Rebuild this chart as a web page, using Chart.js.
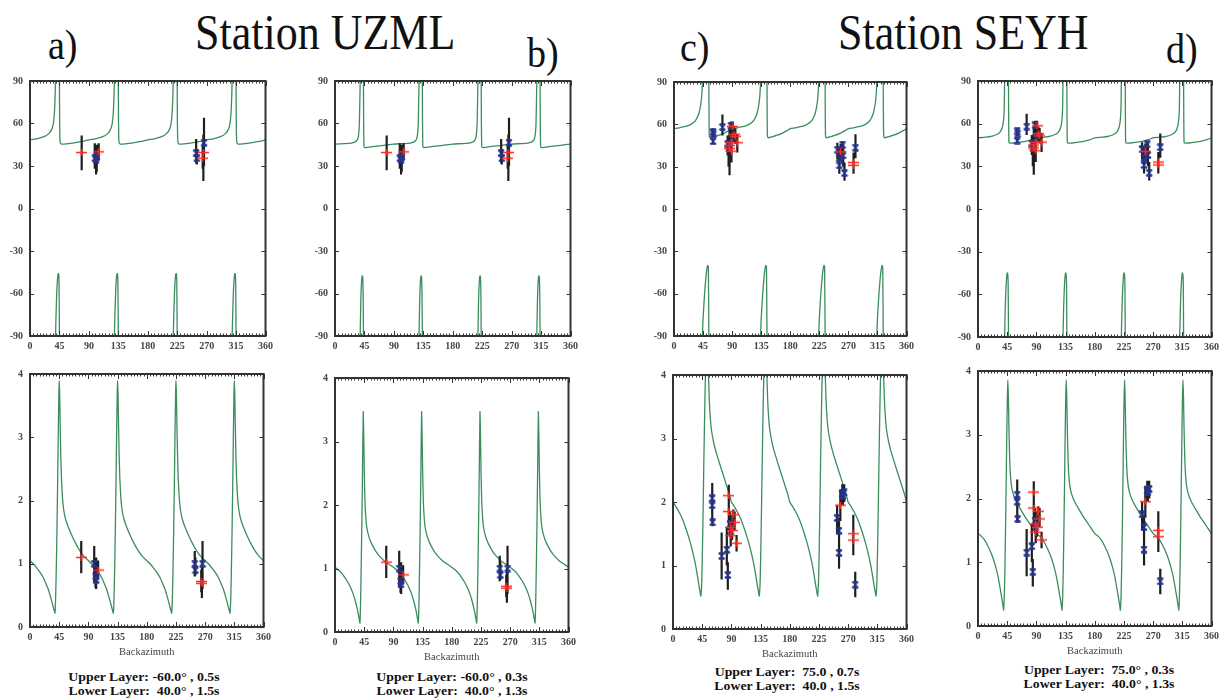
<!DOCTYPE html>
<html>
<head>
<meta charset="utf-8">
<script src="https://cdn.jsdelivr.net/npm/chart.js@4.4.0/dist/chart.umd.min.js"></script>
<style>
  body { margin: 0; background: #fff; width: 1225px; height: 698px; position: relative; overflow: hidden; font-family: "Liberation Serif", "DejaVu Serif", serif; }
  canvas { position: absolute; }
  .lbl { position: absolute; white-space: pre; color: #111; line-height: 1; transform-origin: 0 0; }
  .big { font-size: 44px; transform: scaleY(1.13); }
  .tag { font-size: 38px; transform: scaleY(1.1); }
  .cap { position: absolute; width: 300px; text-align: center; white-space: pre; font-weight: bold; font-size: 13.8px; line-height: 15px; color: #111; transform: scaleY(0.92); transform-origin: 50% 0; }
</style>
</head>
<body>
<div class="lbl big" style="left:195px; top:8px;">Station UZML</div>
<div class="lbl big" style="left:838px; top:8px;">Station SEYH</div>
<div class="lbl tag" style="left:48px; top:24px;">a)</div>
<div class="lbl tag" style="left:527px; top:32px;">b)</div>
<div class="lbl tag" style="left:680px; top:26px;">c)</div>
<div class="lbl tag" style="left:1166px; top:28px;">d)</div>
<div class="cap" style="left:-6px; top:670px;">Upper Layer: -60.0° , 0.5s
Lower Layer:  40.0° , 1.5s</div>
<div class="cap" style="left:302px; top:670px;">Upper Layer: -60.0° , 0.3s
Lower Layer:  40.0° , 1.3s</div>
<div class="cap" style="left:637px; top:665px;">Upper Layer:  75.0 , 0.7s
Lower Layer:  40.0 , 1.5s</div>
<div class="cap" style="left:949px; top:663px;">Upper Layer:  75.0° , 0.3s
Lower Layer:  40.0° , 1.3s</div>
<script>
// tick labels
const bazTicks = [0, 45, 90, 135, 180, 225, 270, 315, 360];
const phiTicks = [-90, -60, -30, 0, 30, 60, 90];
const dtTicks = [0, 1, 2, 3, 4];

// model curves, one 90 degree period each (the curve repeats every 90 deg of backazimuth)
const aTopX = [0, 10, 18, 25, 29, 32, 34, 35.5, 36.5, 37.5, 38.3, 39, 39, 39, 40, 41, 42, 43, 43.8, 44.4, 45, 45, 45, 45.3, 45.7, 46.3, 48, 55, 65, 75, 83, 90];
const aTopY = [48.5, 49.2, 50.2, 51.5, 53, 54.8, 56.8, 59.5, 63, 69, 78, 90, null, -90, -72, -58, -50, -46, -46, -52, -90, null, 90, 62, 50, 46.5, 45.5, 45.6, 46.2, 47, 47.6, 48.5];
const bTopX = [0, 15, 25, 30, 33, 35, 36.3, 37.3, 38.5, 38.5, 38.5, 39.5, 40.5, 41.5, 42.3, 43, 43.5, 43.5, 43.5, 43.8, 44.2, 45, 50, 60, 75, 90];
const bTopY = [45.5, 45.8, 46.2, 46.8, 47.8, 49.5, 53, 60, 90, null, -90, -64, -52, -47.5, -48, -60, -90, null, 90, 60, 45, 43, 43.2, 43.8, 44.6, 45.5];
const cTopX = [0, 8, 16, 23, 28, 32, 35, 38, 40, 42, 43.2, 44, 44, 44, 45, 46.5, 48, 49.5, 51, 52.3, 53.2, 54, 54, 54, 54.3, 54.7, 56, 62, 70, 78, 85, 90];
const cTopY = [57, 57.5, 58.3, 59.3, 60.5, 62, 64, 67, 70.5, 76, 82, 90, null, -90, -78, -66, -56, -48, -42.5, -40, -41, -90, null, 90, 62, 51.5, 50.5, 51.2, 52.3, 53.8, 55.5, 57];
const dTopX = [0, 12, 22, 28, 32, 35, 37, 38.5, 39.7, 40.5, 41, 41, 41, 42, 43, 44, 45, 45.8, 46.5, 47, 47, 47, 47.3, 47.7, 49, 55, 65, 75, 83, 90];
const dTopY = [50, 50.5, 51.3, 52.2, 53.2, 54.8, 56.8, 59.5, 64, 72, 90, null, -90, -70, -57, -49, -45, -45.5, -52, -90, null, 90, 62, 47, 46.3, 46.4, 47, 47.8, 48.8, 50];

const aDtX = [0, 5, 10, 15, 20, 24, 28, 31, 34, 36, 37.5, 38.5, 39.5, 40.5, 41.5, 42.5, 43.5, 44.5, 45, 45.7, 46.5, 47.5, 48.5, 50, 52, 55, 59, 64, 70, 76, 83, 90];
const aDtY = [1.05, 1.0, 0.94, 0.87, 0.79, 0.7, 0.6, 0.5, 0.39, 0.31, 0.25, 0.22, 0.45, 0.9, 1.5, 2.2, 3.0, 3.7, 3.9, 3.7, 3.2, 2.7, 2.35, 2.05, 1.85, 1.7, 1.58, 1.46, 1.33, 1.22, 1.12, 1.05];
const bDtX = [0, 5, 10, 15, 20, 24, 28, 31, 34, 36, 37.5, 38.5, 39.5, 40.5, 41.5, 42.5, 43.5, 44.3, 45.2, 46.2, 47.5, 49, 51, 54, 58, 63, 69, 76, 83, 90];
const bDtY = [1.02, 0.98, 0.93, 0.86, 0.78, 0.7, 0.6, 0.5, 0.38, 0.28, 0.19, 0.14, 0.5, 1.1, 1.8, 2.6, 3.47, 3.1, 2.5, 2.05, 1.8, 1.65, 1.55, 1.45, 1.36, 1.27, 1.19, 1.12, 1.07, 1.02];
const cDtX = [0, 5, 10, 15, 20, 25, 30, 34, 37, 39.5, 41.5, 43, 44.5, 46, 47.5, 49, 50.5, 52, 54, 56, 58.5, 62, 66, 72, 77, 82, 87, 90];
const cDtY = [2.0, 1.92, 1.83, 1.72, 1.58, 1.42, 1.23, 1.05, 0.88, 0.72, 0.6, 0.52, 0.8, 1.6, 2.6, 3.5, 4.2, 4.6, 4.2, 3.6, 3.2, 2.97, 2.8, 2.6, 2.44, 2.28, 2.12, 2.0];
const dDtX = [0, 5, 10, 15, 20, 24, 28, 31, 34, 36.5, 38.5, 39.5, 40.5, 41.5, 42.5, 43.5, 44.5, 45.3, 46, 46.8, 47.6, 48.5, 49.5, 51, 53, 56, 60, 65, 72, 80, 90];
const dDtY = [1.45, 1.41, 1.35, 1.26, 1.15, 1.04, 0.9, 0.77, 0.6, 0.45, 0.32, 0.25, 0.45, 0.9, 1.55, 2.3, 3.1, 3.6, 3.86, 3.6, 3.15, 2.75, 2.45, 2.25, 2.12, 2.02, 1.93, 1.84, 1.72, 1.6, 1.45];

// station UZML measurements (kind: b = blue x, r = red +)
const uzmlBaz   = [79, 99, 101, 102, 105, 254, 255, 266, 265, 264];
const uzmlPhi   = [39.5, 35.5, 34.5, 36.5, 40, 39, 35.5, 46.5, 39.5, 35.5];
const uzmlPhiLo = [27, 28, 24, 26, 34, 32, 31, 30, 19.5, 28];
const uzmlPhiHi = [51.5, 46, 44, 45, 46, 49, 42, 64, 52, 44];
const uzmlDt    = [1.1, 1.0, 0.8, 0.75, 0.9, 1.0, 0.9, 1.0, 0.69, 0.72];
const uzmlDtLo  = [0.85, 0.7, 0.62, 0.6, 0.75, 0.8, 0.82, 0.6, 0.46, 0.55];
const uzmlDtHi  = [1.36, 1.28, 1.0, 1.1, 1.05, 1.2, 1.1, 1.36, 1.0, 0.9];
const uzmlKind  = ['r', 'b', 'b', 'b', 'r', 'b', 'b', 'b', 'r', 'r'];

// station SEYH measurements
const seyhBaz   = [60.5, 60.5, 61, 75, 83, 84.5, 88, 89, 253, 256, 256, 261, 262, 264, 281, 86, 86, 89, 89, 93, 95, 98, 91, 258, 278, 278];
const seyhPhi   = [54.6, 48, 53, 58, 46, 43, 59, 50, 42, 31, 36, 45.5, 38, 25.5, 43.5, 45, 43, 47, 41, 53, 51.5, 47, 58.5, 40.5, 31, 33];
const seyhPhiLo = [52, 46, 51, 52, 38, 30, 53, 38, 35, 25, 30, 40, 30, 20, 36, 32, 24, 35, 33, 47, 46, 40, 54, 34, 25, 27];
const seyhPhiHi = [57, 50, 55, 67, 52, 50, 62, 55, 47, 40, 44, 48, 46, 33, 53, 57, 52, 55, 50, 58, 57, 53, 62, 46, 38, 40];
const seyhDt    = [2.06, 1.95, 1.68, 1.15, 1.25, 0.85, 1.65, 1.55, 1.75, 1.55, 1.2, 2.13, 2.1, 2.15, 0.7, 2.1, 1.85, 1.6, 1.47, 1.8, 1.68, 1.35, 1.55, 1.95, 1.5, 1.4];
const seyhDtLo  = [1.8, 1.65, 1.62, 0.78, 1.0, 0.62, 1.45, 1.3, 1.5, 1.3, 0.95, 1.95, 1.95, 2.0, 0.5, 1.8, 1.55, 1.35, 1.3, 1.65, 1.55, 1.22, 1.4, 1.7, 1.2, 1.16];
const seyhDtHi  = [2.3, 2.2, 1.75, 1.52, 1.6, 1.05, 1.85, 1.75, 1.95, 1.75, 1.45, 2.28, 2.27, 2.28, 0.9, 2.27, 2.1, 1.8, 1.65, 1.88, 1.85, 1.48, 1.7, 2.2, 1.8, 1.6];
const seyhKind  = ['b', 'b', 'b', 'b', 'b', 'b', 'b', 'b', 'b', 'b', 'b', 'b', 'b', 'b', 'b', 'r', 'r', 'r', 'r', 'r', 'r', 'r', 'r', 'r', 'r', 'r'];

const GREEN = '#3b8d5d';
const BLUE = '#27358f';
const RED = '#ff2a1f';
const tickFont = { family: '"Liberation Serif", serif', size: 10, weight: 'bold' };

// marker glyphs: wide red plus, blue x with caps
function glyph(w, h, color, draw) {
    const c = document.createElement('canvas');
    c.width = w; c.height = h;
    const g = c.getContext('2d');
    g.strokeStyle = color;
    g.lineWidth = 1.6;
    g.beginPath();
    draw(g, w, h);
    g.stroke();
    return c;
}
const redPlus = glyph(11, 7, RED, (g, w, h) => {
    g.moveTo(0, h / 2); g.lineTo(w, h / 2);
    g.moveTo(w / 2, 0); g.lineTo(w / 2, h);
});
const blueCross = glyph(8, 8, BLUE, (g, w, h) => {
    g.moveTo(1, 1); g.lineTo(w - 1, h - 1);
    g.moveTo(w - 1, 1); g.lineTo(1, h - 1);
    g.moveTo(1, 1); g.lineTo(w - 1, 1);
    g.moveTo(1, h - 1); g.lineTo(w - 1, h - 1);
});

// lay the single read period over 0..360
function tilePeriod(xs, ys) {
    const pts = [];
    for (let k = 0; k < 4; k++) {
        xs.forEach((x, i) => {
            if (k > 0 && i === 0) return;
            pts.push({ x: x + 90 * k, y: ys[i] });
        });
    }
    return pts;
}

function barPoints(baz, lo, hi) {
    const pts = [];
    baz.forEach((b, i) => {
        pts.push({ x: b, y: lo[i] }, { x: b, y: hi[i] }, { x: b, y: null });
    });
    return pts;
}

function markerPoints(baz, vals, kind, want) {
    return baz.map((b, i) => ({ x: b, y: vals[i] })).filter((p, i) => kind[i] === want);
}

const framePlugin = {
    id: 'frame',
    afterDatasetsDraw(chart) {
        const { ctx, chartArea: a, scales: { x, y } } = chart;
        ctx.save();
        ctx.strokeStyle = '#333';
        ctx.lineWidth = 1;
        ctx.beginPath();
        for (let v = 0; v <= 360; v += 5) {
            const px = Math.round(x.getPixelForValue(v)) + 0.5;
            const len = v % 45 === 0 ? 5 : 2.5;
            ctx.moveTo(px, a.bottom); ctx.lineTo(px, a.bottom - len);
            ctx.moveTo(px, a.top); ctx.lineTo(px, a.top + len);
        }
        y.ticks.forEach(t => {
            const py = Math.round(y.getPixelForValue(t.value)) + 0.5;
            ctx.moveTo(a.left, py); ctx.lineTo(a.left + 4, py);
            ctx.moveTo(a.right, py); ctx.lineTo(a.right - 4, py);
        });
        ctx.stroke();
        ctx.lineWidth = 2;
        ctx.strokeRect(a.left, a.top, a.right - a.left, a.bottom - a.top);
        ctx.restore();
    }
};

function makePanel(box, kind, curveX, curveY, st) {
    const pad = { l: 32, t: 6, r: 10, b: kind === 'top' ? 22 : 32 };
    const w = box.R - box.L + pad.l + pad.r;
    const h = box.B - box.T + pad.t + pad.b;
    const canvas = document.createElement('canvas');
    canvas.width = w; canvas.height = h;
    canvas.style.left = (box.L - pad.l) + 'px';
    canvas.style.top = (box.T - pad.t) + 'px';
    canvas.style.width = w + 'px';
    canvas.style.height = h + 'px';
    document.body.appendChild(canvas);

    const isTop = kind === 'top';
    const vals = isTop ? st.phi : st.dt;
    const lo = isTop ? st.phiLo : st.dtLo;
    const hi = isTop ? st.phiHi : st.dtHi;

    new Chart(canvas, {
        type: 'scatter',
        data: {
            datasets: [
                {
                    data: markerPoints(st.baz, vals, st.kind, 'r'),
                    pointStyle: redPlus, pointRadius: 5, order: 0
                },
                {
                    data: markerPoints(st.baz, vals, st.kind, 'b'),
                    pointStyle: blueCross, pointRadius: 4, order: 1
                },
                {
                    data: barPoints(st.baz, lo, hi),
                    showLine: true, spanGaps: false, pointRadius: 0,
                    borderColor: '#1e1e1e', borderWidth: 2.2, order: 2
                },
                {
                    data: tilePeriod(curveX, curveY),
                    showLine: true, spanGaps: false, pointRadius: 0, tension: 0.15,
                    borderColor: GREEN, borderWidth: 1.3, order: 3
                }
            ]
        },
        options: {
            responsive: false,
            devicePixelRatio: 1,
            animation: false,
            layout: { padding: { top: pad.t, right: pad.r, left: 0, bottom: 0 } },
            plugins: { legend: { display: false }, tooltip: { enabled: false } },
            scales: {
                x: {
                    type: 'linear', min: 0, max: 360,
                    afterBuildTicks: s => { s.ticks = bazTicks.map(v => ({ value: v })); },
                    afterFit: s => { s.height = pad.b; },
                    ticks: { font: tickFont, color: '#444', padding: 4, autoSkip: false, maxRotation: 0 },
                    grid: { display: false, drawTicks: false },
                    border: { display: false },
                    title: {
                        display: !isTop, text: 'Backazimuth', color: '#444',
                        font: { family: '"Liberation Serif", serif', size: 10.5 },
                        padding: { top: 0, bottom: 0 }
                    }
                },
                y: {
                    type: 'linear',
                    min: isTop ? -90 : 0, max: isTop ? 90 : 4,
                    afterBuildTicks: s => { s.ticks = (isTop ? phiTicks : dtTicks).map(v => ({ value: v })); },
                    afterFit: s => { s.width = pad.l; },
                    ticks: { font: tickFont, color: '#444', padding: 7 },
                    grid: { display: false, drawTicks: false },
                    border: { display: false }
                }
            }
        },
        plugins: [framePlugin]
    });
}

const uzml = { baz: uzmlBaz, phi: uzmlPhi, phiLo: uzmlPhiLo, phiHi: uzmlPhiHi, dt: uzmlDt, dtLo: uzmlDtLo, dtHi: uzmlDtHi, kind: uzmlKind };
const seyh = { baz: seyhBaz, phi: seyhPhi, phiLo: seyhPhiLo, phiHi: seyhPhiHi, dt: seyhDt, dtLo: seyhDtLo, dtHi: seyhDtHi, kind: seyhKind };

makePanel({ L: 30, R: 267, T: 74, B: 336 }, 'top', aTopX, aTopY, uzml);
makePanel({ L: 30, R: 265, T: 367, B: 627 }, 'dt', aDtX, aDtY, uzml);
makePanel({ L: 335, R: 572, T: 74, B: 336 }, 'top', bTopX, bTopY, uzml);
makePanel({ L: 335, R: 570, T: 371, B: 632 }, 'dt', bDtX, bDtY, uzml);
makePanel({ L: 674, R: 908, T: 75, B: 336 }, 'top', cTopX, cTopY, seyh);
makePanel({ L: 673, R: 908, T: 368, B: 629 }, 'dt', cDtX, cDtY, seyh);
makePanel({ L: 978, R: 1213, T: 74, B: 337 }, 'top', dTopX, dTopY, seyh);
makePanel({ L: 978, R: 1213, T: 364, B: 626 }, 'dt', dDtX, dDtY, seyh);
</script>
</body>
</html>
